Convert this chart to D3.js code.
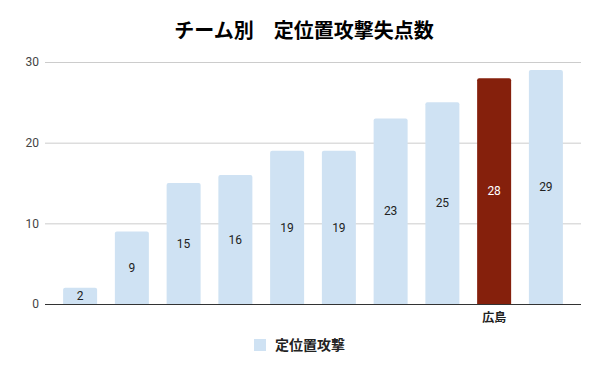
<!DOCTYPE html>
<html>
<head>
<meta charset="utf-8">
<script src="https://cdn.jsdelivr.net/npm/d3@7"></script>
<style>
  body{margin:0;background:#fff;}
  text{font-family:Roboto,"Noto Sans CJK JP",sans-serif;}
</style>
</head>
<body>
<script>
// データ
let labels=["","","","","","","","","広島",""];
let values=[2,9,15,16,19,19,23,25,28,29];
let highlight=[false,false,false,false,false,false,false,false,true,false];
let yTicks=[0,10,20,30];
let title="チーム別　定位置攻撃失点数";
let seriesName="定位置攻撃";

let width=600,height=371;
let svg=d3.select("body").append("svg")
    .attr("width",width)
    .attr("height",height);

//スケール
let x=d3.scaleBand()
    .domain(d3.range(values.length))
    .range([45,581])
    .paddingInner(0.343)
    .paddingOuter(0.35);
let y=d3.scaleLinear().domain([0,30]).range([304,62]);

//タイトル
svg.append("text")
    .attr("x",304).attr("y",38)
    .attr("text-anchor","middle")
    .style("font-family","'Noto Sans CJK JP'")
    .style("font-weight","bold")
    .style("font-size","20px")
    .style("fill","#000")
    .text(title);

//グリッド線
let yAxis=d3.axisLeft(y).tickValues(yTicks).tickSize(-(581-45)).tickPadding(6);
let gy=svg.append("g").attr("transform","translate(45,0)").call(yAxis);
gy.select(".domain").remove();
gy.selectAll(".tick line").attr("stroke","#cccccc");
gy.selectAll(".tick text")
    .style("font-size","12px")
    .style("fill","#444")
    .attr("x",-6);

//棒
function barPath(i){
    let x0=x(i),w=x.bandwidth(),y0=y(values[i]),y1=y(0),r=2;
    return `M${x0},${y1}V${y0+r}Q${x0},${y0} ${x0+r},${y0}H${x0+w-r}Q${x0+w},${y0} ${x0+w},${y0+r}V${y1}Z`;
}
svg.selectAll("path.bar").data(values).enter().append("path")
    .attr("class","bar")
    .attr("d",function(d,i){return barPath(i);})
    .style("fill",function(d,i){return highlight[i]?"#85200c":"#cfe2f3";});

//数値ラベル
svg.selectAll("text.val").data(values).enter().append("text")
    .attr("class","val")
    .attr("x",function(d,i){return x(i)+x.bandwidth()/2;})
    .attr("y",function(d){return (y(d)+y(0))/2;})
    .attr("dy","0.35em")
    .attr("text-anchor","middle")
    .style("font-size","12px")
    .style("fill",function(d,i){return highlight[i]?"#ffffff":"#222";})
    .text(function(d){return d;});

//X軸
let xAxis=d3.axisBottom(x).tickSize(0).tickPadding(9).tickFormat(function(i){return labels[i];});
let gx=svg.append("g").attr("transform","translate(0,304)").call(xAxis);
gx.select(".domain").remove();
gx.selectAll(".tick text")
    .style("font-family","'Noto Sans CJK JP'")
    .style("font-weight","bold")
    .style("font-size","12px")
    .style("fill","#222");
svg.append("line")
    .attr("x1",45).attr("x2",581)
    .attr("y1",304.5).attr("y2",304.5)
    .attr("stroke","#333");

//凡例
svg.append("rect")
    .attr("x",254).attr("y",339)
    .attr("width",12).attr("height",12)
    .style("fill","#cfe2f3");
svg.append("text")
    .attr("x",275).attr("y",345)
    .attr("dy","0.35em")
    .style("font-family","'Noto Sans CJK JP'")
    .style("font-weight","bold")
    .style("font-size","14px")
    .style("fill","#222")
    .text(seriesName);
</script>
</body>
</html>
